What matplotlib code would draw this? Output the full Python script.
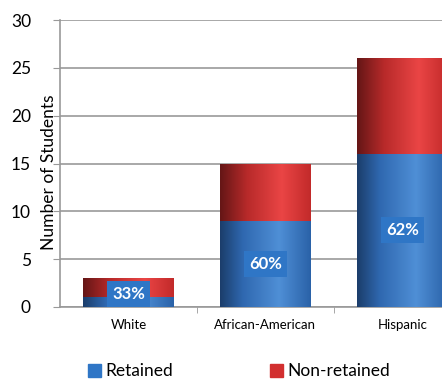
import numpy as np
import matplotlib

matplotlib.use("Agg")
import matplotlib.pyplot as plt
from matplotlib.colors import LinearSegmentedColormap
from matplotlib.patches import Patch

plt.rcParams["font.family"] = ["Lato", "DejaVu Sans"]

categories = ["White", "African-American", "Hispanic"]
retained = [1, 9, 16]
non_retained = [2, 6, 10]
yticks = [0, 5, 10, 15, 20, 25, 30]

# cylinder-ish shading: dark left edge, highlight right of centre
blue_cmap = LinearSegmentedColormap.from_list(
    "blue_cyl", [(0, "#1b3d6a"), (0.25, "#2f68b0"), (0.65, "#4f8fd6"), (1, "#2a62a8")])
red_cmap = LinearSegmentedColormap.from_list(
    "red_cyl", [(0, "#641616"), (0.3, "#b82a2a"), (0.68, "#ea4545"), (1, "#c22a2a")])

fig = plt.figure(figsize=(4.42, 3.79), dpi=100)
ax = fig.add_axes([0.136, 0.19, 0.896, 0.757])

x = np.arange(len(categories))
width = 0.66
ret_bars = ax.bar(x, retained, width, color="none", edgecolor="none")
non_bars = ax.bar(x, non_retained, width, bottom=retained, color="none", edgecolor="none")

grad = np.linspace(0, 1, 256).reshape(1, -1)
for bars, cmap in ((ret_bars, blue_cmap), (non_bars, red_cmap)):
    for b in bars:
        x0, y0 = b.get_x(), b.get_y()
        im = ax.imshow(grad, cmap=cmap, aspect="auto", zorder=3,
                       extent=[x0, x0 + b.get_width(), y0, y0 + b.get_height()])
        im.set_clip_path(b)

for xi, r, n in zip(x, retained, non_retained):
    pct = round(100 * r / (r + n))
    ax.text(xi, max(r / 2, 1.4), f"{pct}%", ha="center", va="center", color="white",
            fontsize=12, fontweight="bold", zorder=5,
            bbox=dict(boxstyle="square,pad=0.3", fc="#2f76c6", ec="none"))

ax.set_xlim(-0.5, 2.394)
ax.set_ylim(0, 30)
ax.set_yticks(yticks)
ax.set_xticks(x)
ax.set_xticklabels(categories, fontsize=9.5)
ax.tick_params(axis="x", length=0, pad=9)
ax.set_xticks([0.5, 1.5], minor=True)
ax.tick_params(axis="x", which="minor", length=4, color="#999999", direction="out")
ax.tick_params(axis="y", labelsize=12.5, length=5, color="#999999", pad=16)
ax.set_ylabel("Number of Students", fontsize=12.5, va="center")
ax.yaxis.set_label_coords(-0.028, 0.47)
ax.yaxis.grid(True, color="#999999", lw=1.2)
ax.set_axisbelow(True)
for s in ("top", "right"):
    ax.spines[s].set_visible(False)
for s in ("left", "bottom"):
    ax.spines[s].set_color("#999999")
    ax.spines[s].set_linewidth(1.2)

handles = [Patch(color="#2f76c6", label="Retained"), Patch(color="#d22f2f", label="Non-retained")]
fig.legend(handles=handles, loc="center left", bbox_to_anchor=(0.199, 0.02), ncol=2,
           frameon=False, fontsize=12.5, borderpad=0, borderaxespad=0,
           handlelength=0.75, handleheight=0.75,
           handletextpad=0.25, columnspacing=5.6)

fig.savefig("out.png", dpi=100)
